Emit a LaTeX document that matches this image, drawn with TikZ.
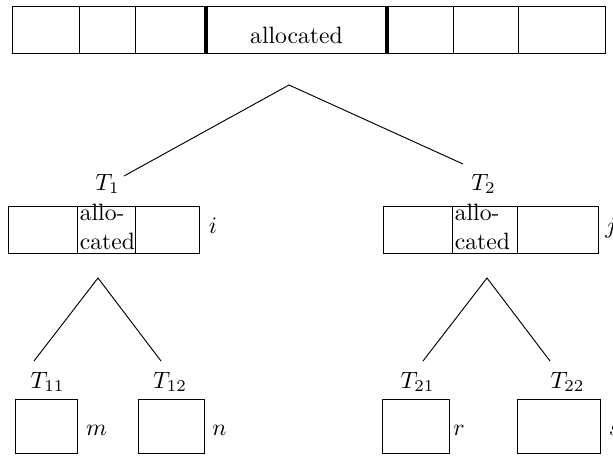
\documentclass[tikz,border=0pt]{standalone}
\usepackage{amsmath}
\usepackage{tikz}
\usetikzlibrary{calc}
\usepackage{amsfonts}
\begin{document}
\begin{tikzpicture}[x=.423pt, y=-.423pt]
\useasboundingbox (0, 0) rectangle (613, 456);
% memory block
\draw (12, 6) rectangle (605, 53);
\foreach \x in {79, 135, 453, 518}
  \draw (\x, 6) -- (\x, 53);
\draw [line width=1.4pt] (206, 6) -- (206, 53);
\draw [line width=1.4pt] (387, 6) -- (387, 53);
\node at (296.5, 43) [name=block, anchor=base] {allocated};
% first split
\draw (8, 206) rectangle (199, 253);
\draw (77, 206) -- (77, 253);
\draw (135, 206) -- (135, 253);
\draw (383, 206) -- (383, 253) -- (598, 253) -- (598, 206) -- cycle;
\draw (452, 206) -- (452, 253);
\draw (517, 206) -- (517, 253);
\node at (77, 227) [name=a1, anchor=west, align=left, inner sep=1pt] {allo-\\cated};
\node at (452, 227) [name=a2, anchor=west, align=left, inner sep=1pt] {allo-\\cated};
\node at (107.5, 190) [name=t1, anchor=base] {$T_1$};
\node at (483.5, 190) [name=t2, anchor=base] {$T_2$};
\node at (213, 233) [name=i, anchor=base] {$i$};
\node at (611, 233) [name=j, anchor=base] {$j$};
% second split
\draw (15, 399) rectangle (77, 453);
\draw (138, 399) rectangle (204, 453);
\draw (382, 399) rectangle (449, 453);
\draw (517, 399) rectangle (600, 453);
\node at (47.5, 388) [name=t11, anchor=base] {$T_{11}$};
\node at (170, 388) [name=t12, anchor=base] {$T_{12}$};
\node at (417.5, 388) [name=t21, anchor=base] {$T_{21}$};
\node at (567.5, 388) [name=t22, anchor=base] {$T_{22}$};
\node at (96.5, 435) [name=m, anchor=base] {$m$};
\node at (219.5, 435) [name=n, anchor=base] {$n$};
\node at (459, 435) [name=r, anchor=base] {$r$};
\node at (614.5, 435) [name=s, anchor=base] {$s$};
% tree
\coordinate (R) at (289, 85);
\coordinate (R1) at (124, 176);
\coordinate (R2) at (463, 164);
\coordinate (S) at (98, 278);
\coordinate (S1) at (34, 361);
\coordinate (S2) at (161, 361);
\coordinate (U) at (487, 278);
\coordinate (U1) at (423, 361);
\coordinate (U2) at (550, 361);
\draw (R1) -- (R) -- (R2);
\draw (S1) -- (S) -- (S2);
\draw (U1) -- (U) -- (U2);
\end{tikzpicture}
\end{document}
